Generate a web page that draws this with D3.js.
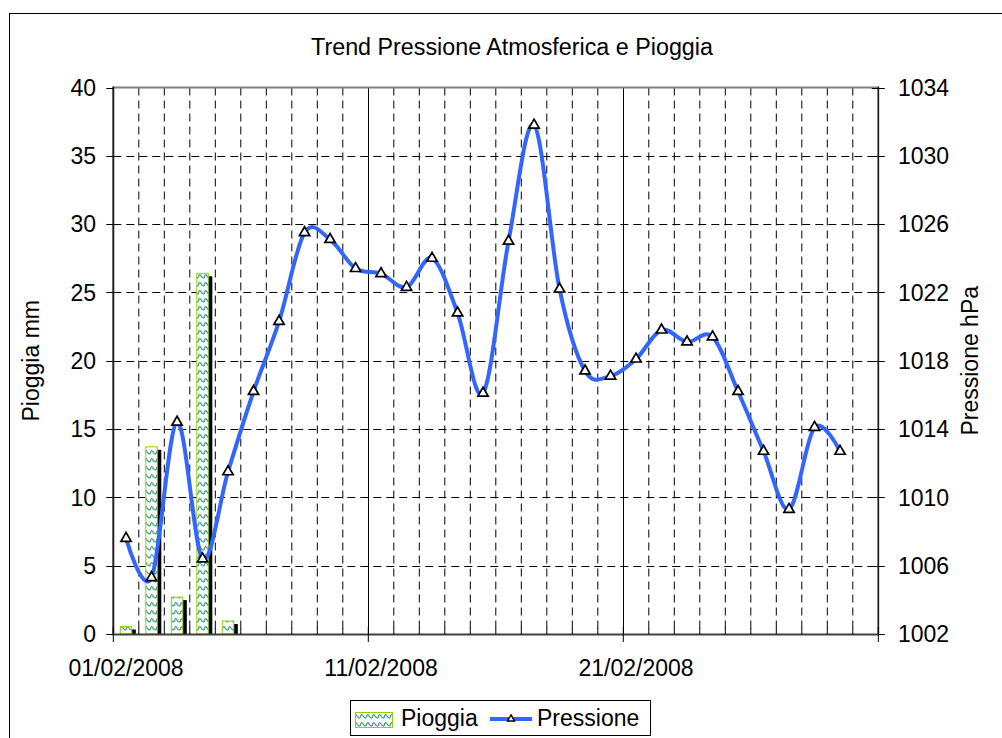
<!DOCTYPE html>
<html>
<head>
<meta charset="utf-8">
<script src="https://cdn.jsdelivr.net/npm/d3@7"></script>
<style>
  html, body { margin: 0; padding: 0; background: #fff; }
  svg { display: block; }
  text { font-family: "Liberation Sans", Arial, sans-serif; fill: #000; }
</style>
</head>
<body>
<svg id="chart" width="1002" height="738"></svg>
<script>
// ---- data ----
const title = "Trend Pressione Atmosferica e Pioggia";
const dates = d3.range(1, 30).map(d => new Date(Date.UTC(2008, 1, d)));
const rainValues = [0.55, 13.7, 2.7, 26.4, 0.95, 0, 0, 0, 0, 0, 0, 0, 0, 0, 0, 0, 0, 0, 0, 0, 0, 0, 0, 0, 0, 0, 0, 0, 0];
const pressureValues = [1007.6, 1005.3, 1014.4, 1006.4, 1011.5, 1016.2, 1020.3, 1025.5, 1025.1, 1023.4,
                        1023.1, 1022.3, 1024.0, 1020.8, 1016.1, 1025.0, 1031.8, 1022.2, 1017.4, 1017.1,
                        1018.1, 1019.8, 1019.1, 1019.4, 1016.2, 1012.7, 1009.3, 1014.1, 1012.7];
const leftTicks = [0, 5, 10, 15, 20, 25, 30, 35, 40];
const rightTicks = [1002, 1006, 1010, 1014, 1018, 1022, 1026, 1030, 1034];
const xLabels = ["01/02/2008", "11/02/2008", "21/02/2008"];
const seriesNames = ["Pioggia", "Pressione"];
const leftTitle = "Pioggia mm";
const rightTitle = "Pressione hPa";

// ---- layout ----
const svg = d3.select("#chart");
const L = 113.3, R = 878.3, T = 87.5, B = 634;
const FS = 23;
const HALF = 12 * 3600 * 1000;

const x = d3.scaleUtc().domain([new Date(Date.UTC(2008, 1, 1)), new Date(Date.UTC(2008, 2, 2))]).range([L, R]);
const yL = d3.scaleLinear().domain([0, 40]).range([B, T]);
const yR = d3.scaleLinear().domain([1002, 1034]).range([B, T]);

// pattern
const defs = svg.append("defs");
const pat = defs.append("pattern").attr("id", "wave").attr("patternUnits", "userSpaceOnUse")
  .attr("width", 6).attr("height", 8);
pat.append("rect").attr("width", 6).attr("height", 8).attr("fill", "#fff");
pat.append("path").attr("d", "M0,6 C1,2 2,2 3,4 C4,6 5,6 6,6")
  .attr("fill", "none").attr("stroke", "#3f9f80").attr("stroke-width", 1.3);

// outer frame
svg.append("rect").attr("x", 9.5).attr("y", 13.5).attr("width", 1000).attr("height", 740)
  .attr("fill", "#fff").attr("stroke", "#000").attr("stroke-width", 1);

// title
svg.append("text").attr("x", 512).attr("y", 55).attr("text-anchor", "middle")
  .attr("font-size", 23.3).text(title);

// gridlines
const dayTicks = d3.utcDay.range(new Date(Date.UTC(2008, 1, 2)), new Date(Date.UTC(2008, 2, 2)));
const majorDays = [new Date(Date.UTC(2008, 1, 11)), new Date(Date.UTC(2008, 1, 21))];
const isMajor = d => majorDays.some(m => +m === +d);

const grid = svg.append("g");
grid.selectAll("line.vmin").data(dayTicks.filter(d => !isMajor(d))).join("line")
  .attr("x1", d => x(d)).attr("x2", d => x(d)).attr("y1", T).attr("y2", B)
  .attr("stroke", "#000").attr("stroke-width", 1).attr("stroke-dasharray", "8,5");
grid.selectAll("line.vmaj").data(majorDays).join("line")
  .attr("x1", d => Math.round(x(d)) + 0.5).attr("x2", d => Math.round(x(d)) + 0.5).attr("y1", T).attr("y2", B)
  .attr("stroke", "#000").attr("stroke-width", 1);
grid.selectAll("line.h").data(leftTicks.filter(t => t > 0 && t < 40)).join("line")
  .attr("x1", L).attr("x2", R).attr("y1", d => Math.round(yL(d)) + 0.5).attr("y2", d => Math.round(yL(d)) + 0.5)
  .attr("stroke", "#000").attr("stroke-width", 1).attr("stroke-dasharray", "8,5");

// plot border (top, right)
svg.append("path").attr("d", `M${L},${T} H${R} V${B}`).attr("fill", "none")
  .attr("stroke", "#808080").attr("stroke-width", 2);

// bars with shadow
const bw = 11.5;
const rainData = dates.map((d, i) => ({ d, v: rainValues[i] })).filter(o => o.v > 0);
const bars = svg.append("g");
bars.selectAll("rect.sh").data(rainData).join("rect")
  .attr("x", o => x(+o.d + HALF) - bw / 2 + 4).attr("y", o => yL(o.v) + 3)
  .attr("width", bw).attr("height", o => Math.max(0, B - yL(o.v) - 3)).attr("fill", "#000");
bars.selectAll("rect.bar").data(rainData).join("rect")
  .attr("x", o => x(+o.d + HALF) - bw / 2).attr("y", o => yL(o.v))
  .attr("width", bw).attr("height", o => B - yL(o.v))
  .attr("fill", "url(#wave)").attr("stroke", "#99cc00").attr("stroke-width", 1);

// axes
const axG = svg.append("g");
// left axis
axG.append("line").attr("x1", L).attr("x2", L).attr("y1", T - 1).attr("y2", B + 1)
  .attr("stroke", "#222").attr("stroke-width", 2);
axG.selectAll("line.lt").data(leftTicks).join("line")
  .attr("x1", L - 7).attr("x2", L).attr("y1", d => Math.round(yL(d)) + 0.5).attr("y2", d => Math.round(yL(d)) + 0.5)
  .attr("stroke", "#000");
axG.selectAll("text.lt").data(leftTicks).join("text")
  .attr("x", 96).attr("y", d => yL(d)).attr("dy", "0.36em").attr("text-anchor", "end")
  .attr("font-size", FS).text(d => d);
// right axis
axG.append("line").attr("x1", R).attr("x2", R).attr("y1", T - 1).attr("y2", B + 1)
  .attr("stroke", "#000").attr("stroke-width", 1);
axG.selectAll("line.rt").data(rightTicks).join("line")
  .attr("x1", R - 6.5).attr("x2", R + 6.5).attr("y1", d => Math.round(yR(d)) + 0.5).attr("y2", d => Math.round(yR(d)) + 0.5)
  .attr("stroke", "#000");
axG.selectAll("text.rt").data(rightTicks).join("text")
  .attr("x", 898).attr("y", d => yR(d)).attr("dy", "0.36em").attr("text-anchor", "start")
  .attr("font-size", FS).text(d => d);
// bottom axis
axG.append("line").attr("x1", L - 1).attr("x2", R + 1).attr("y1", B + 0.5).attr("y2", B + 0.5)
  .attr("stroke", "#404040").attr("stroke-width", 2);
axG.selectAll("line.bmin").data(dayTicks.filter(d => !isMajor(d))).join("line")
  .attr("x1", d => x(d)).attr("x2", d => x(d)).attr("y1", B - 6).attr("y2", B)
  .attr("stroke", "#000");
const majorAll = [new Date(Date.UTC(2008, 1, 1)), ...majorDays, new Date(Date.UTC(2008, 2, 2))];
axG.selectAll("line.bmaj").data(majorAll).join("line")
  .attr("x1", d => x(d)).attr("x2", d => x(d)).attr("y1", B - 7).attr("y2", B + 8)
  .attr("stroke", "#000");
axG.selectAll("text.bl").data(majorAll.slice(0, 3)).join("text")
  .attr("x", d => x(+d + HALF)).attr("y", 676).attr("text-anchor", "middle")
  .attr("font-size", FS).text((d, i) => xLabels[i]);

// axis titles
svg.append("text").attr("transform", `translate(39,${(T + B) / 2}) rotate(-90)`)
  .attr("text-anchor", "middle").attr("font-size", FS).text(leftTitle);
svg.append("text").attr("transform", `translate(978,${(T + B) / 2}) rotate(-90)`)
  .attr("text-anchor", "middle").attr("font-size", FS).text(rightTitle);

// pressure line
const pts = dates.map((d, i) => [x(+d + HALF), yR(pressureValues[i])]);
svg.append("path").datum(pts)
  .attr("d", d3.line().curve(d3.curveCatmullRom.alpha(0)))
  .attr("fill", "none").attr("stroke", "#3366ff").attr("stroke-width", 4).attr("stroke-linejoin", "round");

const tri = d3.symbol().type(d3.symbolTriangle).size(46);
svg.append("g").selectAll("path").data(pts).join("path")
  .attr("transform", p => `translate(${p[0]},${p[1]})`)
  .attr("d", tri).attr("fill", "#fff").attr("stroke", "#000").attr("stroke-width", 1.7);

// legend
const lg = svg.append("g");
lg.append("rect").attr("x", 350.5).attr("y", 700.5).attr("width", 300).attr("height", 35)
  .attr("fill", "#fff").attr("stroke", "#000").attr("stroke-width", 1);
lg.append("rect").attr("x", 355.5).attr("y", 712.5).attr("width", 37).attr("height", 15)
  .attr("fill", "url(#wave)").attr("stroke", "#99cc00").attr("stroke-width", 1);
lg.append("text").attr("x", 401).attr("y", 726).attr("font-size", FS).text(seriesNames[0]);
lg.append("line").attr("x1", 490).attr("x2", 532).attr("y1", 719).attr("y2", 719)
  .attr("stroke", "#3366ff").attr("stroke-width", 4);
lg.append("path").attr("transform", "translate(511,719)").attr("d", d3.symbol().type(d3.symbolTriangle).size(22))
  .attr("fill", "#fff").attr("stroke", "#000").attr("stroke-width", 1.4);
lg.append("text").attr("x", 537).attr("y", 726).attr("font-size", FS).text(seriesNames[1]);
</script>
</body>
</html>
